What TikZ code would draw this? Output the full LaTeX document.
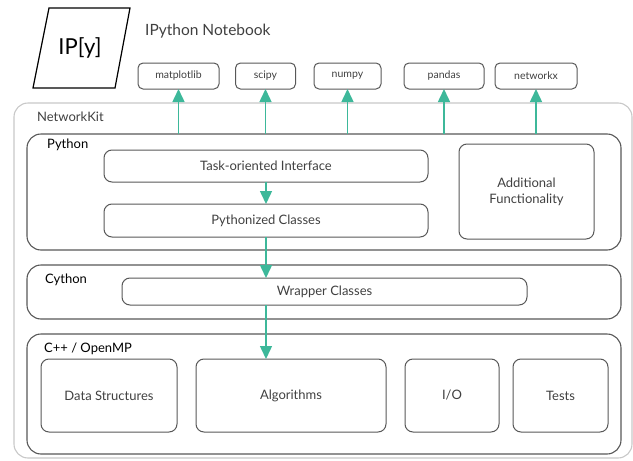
\documentclass[tikz,border=0pt]{standalone}
\usepackage{fontspec}
\setmainfont{Lato}
\usepackage{tikz}
\usetikzlibrary{arrows.meta}
\definecolor{edge}{HTML}{585858}
\definecolor{faintedge}{HTML}{C8C8C8}
\definecolor{txt}{HTML}{404040}
\definecolor{flowgreen}{HTML}{3DB89A}
\tikzset{
  layer/.style={draw=edge, line width=1.1pt, rounded corners=14pt, inner sep=0pt, outer sep=0pt},
  box/.style={draw=edge, line width=1pt, rounded corners=8pt, inner sep=0pt, outer sep=0pt,
    text=txt, font=\fontsize{13}{16}\selectfont, align=center},
  libbox/.style={box, rounded corners=5pt, minimum height=26pt, font=\fontsize{10.5}{12}\selectfont},
  head/.style={anchor=base west, inner sep=0pt, font=\fontsize{13}{15}\selectfont},
  flow/.style={draw=flowgreen, line width=1.5pt, -{Triangle[width=12pt,length=13pt]}},
}
\begin{document}
\begin{tikzpicture}[x=1pt, y=-1pt]
  \useasboundingbox (0,0) rectangle (633,461);

  % IPython logo and libraries
  \draw[line width=1.2pt] (49,8) -- (130,8) -- (115,88) -- (33,88) -- cycle;
  \node[font=\fontsize{22}{24}\selectfont] (ipy) at (80,48) {IP[y]};
  \node[head, text=txt, font=\fontsize{15.5}{17}\selectfont] (nb) at (145,35) {IPython Notebook};
  \node[libbox, minimum width=81pt] (mpl) at (178.5,76) {matplotlib};
  \node[libbox, minimum width=60pt] (scipy) at (265.5,76) {scipy};
  \node[libbox, minimum width=67pt] (numpy) at (347.5,76) {numpy};
  \node[libbox, minimum width=80pt] (pandas) at (444,76) {pandas};
  \node[libbox, minimum width=82pt] (nx) at (536,76) {networkx};

  % NetworkKit frame
  \node[layer, draw=faintedge, minimum width=618pt, minimum height=355pt] (nk) at (323,280.5) {};
  \node[head, text=txt] (nklab) at (37,121) {NetworkKit};

  % Python layer
  \node[layer, minimum width=594pt, minimum height=116pt] (py) at (324,192) {};
  \node[head] (pylab) at (47,148) {Python};
  \node[box, minimum width=324pt, minimum height=32pt] (task) at (266,166) {Task-oriented Interface};
  \node[box, minimum width=324pt, minimum height=33pt] (pyc) at (266,220.5) {Pythonized Classes};
  \node[box, minimum width=135pt, minimum height=95pt] (addfn) at (526.5,191.5) {Additional\\Functionality};

  % Cython layer
  \node[layer, minimum width=594pt, minimum height=54pt] (cy) at (324,292) {};
  \node[head] (cylab) at (45,283) {Cython};
  \node[box, minimum width=405pt, minimum height=27pt] (wrap) at (324.5,291.5) {Wrapper Classes};

  % C++ layer
  \node[layer, minimum width=594pt, minimum height=120pt] (cpp) at (324,394) {};
  \node[head] (cpplab) at (44,352) {C++ / OpenMP};
  \node[box, minimum width=136pt, minimum height=73pt] (ds) at (109,395.5) {Data Structures};
  \node[box, minimum width=190pt, minimum height=73pt] (alg) at (291,395.5) {Algorithms};
  \node[box, minimum width=94pt, minimum height=73pt] (io) at (452,395.5) {I/O};
  \node[box, minimum width=95pt, minimum height=73pt] (tests) at (560.5,395.5) {Tests};

  % arrows
  \foreach \lib in {mpl,scipy,numpy,pandas,nx}
    \draw[flow] (\lib.south |- py.north) -- (\lib.south);
  \draw[flow] (task) -- (pyc);
  \draw[flow] (pyc.south) -- (pyc.south |- wrap.north);
  \draw[flow] (pyc.south |- wrap.south) -- (pyc.south |- alg.north);
\end{tikzpicture}
\end{document}
